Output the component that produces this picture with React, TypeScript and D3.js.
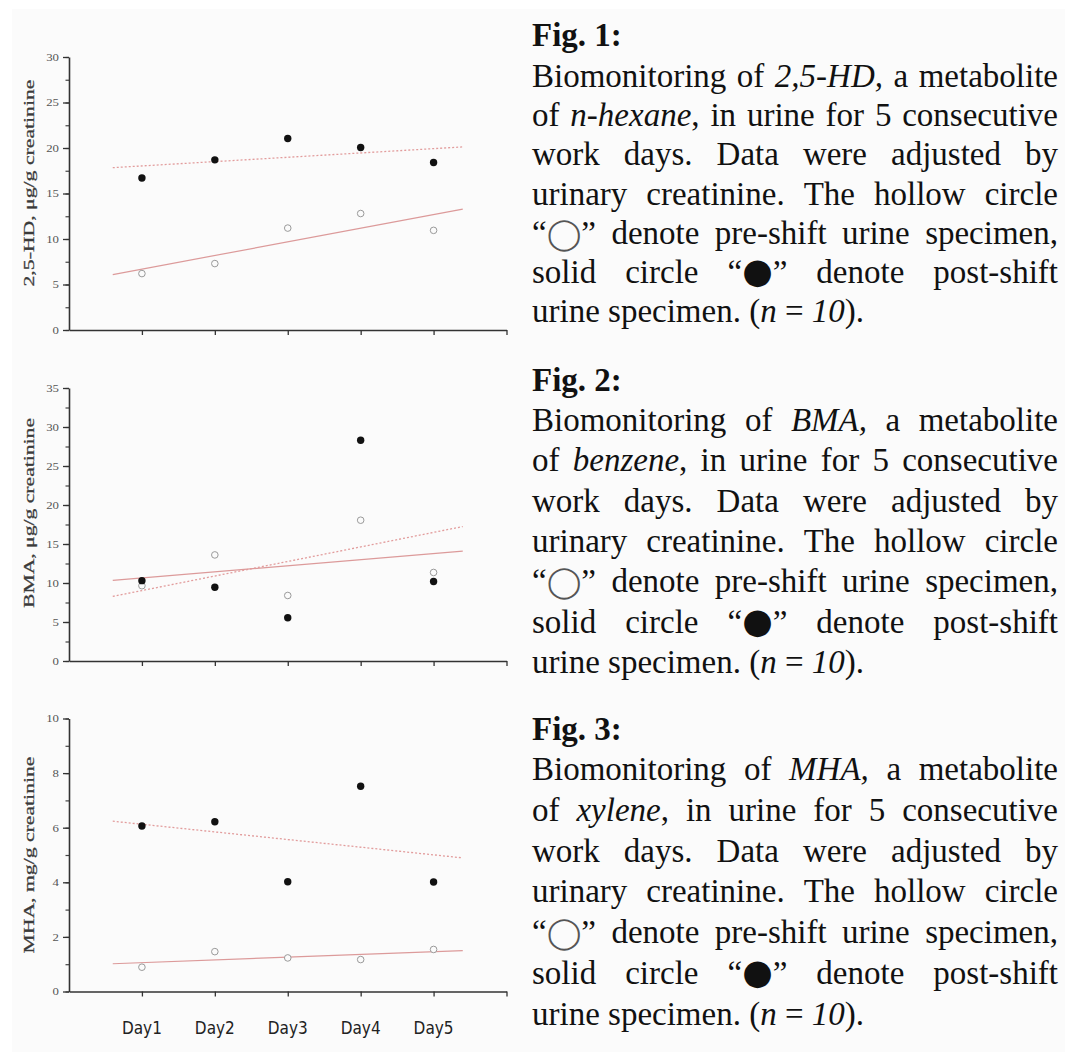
import React, { useEffect, useRef } from "react";
import * as d3 from "d3";

const days = ["Day1", "Day2", "Day3", "Day4", "Day5"];

// 2,5-HD (n-hexane), µg/g creatinine
const hdPre = [6.2, 7.3, 11.2, 12.8, 10.95];
const hdPost = [16.7, 18.7, 21.05, 20.05, 18.4];
// BMA (benzene), µg/g creatinine
const bmaPre = [9.65, 13.6, 8.4, 18.05, 11.35];
const bmaPost = [10.3, 9.45, 5.55, 28.3, 10.2];
// MHA (xylene), mg/g creatinine
const mhaPre = [0.89, 1.46, 1.23, 1.17, 1.54];
const mhaPost = [6.06, 6.22, 4.02, 7.52, 4.01];

const yTitles = ["2,5-HD, μg/g creatinine", "BMA, μg/g creatinine", "MHA, mg/g creatinine"];
const yMax = [30, 35, 10];
const yMajor = [5, 5, 2];
const yMinor = [2.5, 2.5, 1];

const figTitles = ["Fig. 1:", "Fig. 2:", "Fig. 3:"];
const metabolites = ["2,5-HD", "BMA", "MHA"];
const solvents = ["n-hexane", "benzene", "xylene"];

const preSets = [hdPre, bmaPre, mhaPre];
const postSets = [hdPost, bmaPost, mhaPost];

// where each panel / caption block sits on the page
const layout = [
  { top: 57, bottom: 330, labelY: 183, labelLen: 207, capFig: 46, capFirst: 87, capStep: 39.2 },
  { top: 388, bottom: 661, labelY: 513, labelLen: 190, capFig: 391, capFirst: 431, capStep: 40.3 },
  { top: 718.5, bottom: 991.5, labelY: 855, labelLen: 197, capFig: 740, capFirst: 780, capStep: 40.8 },
];

const SERIF = "'Liberation Serif', 'Times New Roman', Times, serif";
const CAP_FS = 33;
const CAP_X = 532;
const CAP_W = 526;

// least squares line through (1..5, ys)
function fit(ys: number[]) {
  const xs = ys.map((_, i) => i + 1);
  const mx = d3.mean(xs) as number;
  const my = d3.mean(ys) as number;
  const b =
    d3.sum(xs.map((x, i) => (x - mx) * (ys[i] - my))) / d3.sum(xs.map((x) => (x - mx) ** 2));
  return (x: number) => my + b * (x - mx);
}

type Seg = { t: string; it: boolean; sym: boolean };

function parseWord(w: string): Seg[] {
  const segs: Seg[] = [];
  w.split("*").forEach((part, i) => {
    part.split(/([◯●])/).forEach((p) => {
      if (p) segs.push({ t: p, it: i % 2 === 1, sym: /[◯●]/.test(p) });
    });
  });
  return segs;
}

function captionLines(k: number) {
  return [
    `Biomonitoring of *${metabolites[k]},* a metabolite`,
    `of *${solvents[k]}*, in urine for 5 consecutive`,
    "work days. Data were adjusted by",
    "urinary creatinine. The hollow circle",
    "“◯” denote pre-shift urine specimen,",
    "solid circle “●” denote post-shift",
    "urine specimen. (*n* = *10*).",
  ];
}

export default function App() {
  const ref = useRef<SVGSVGElement>(null);

  useEffect(() => {
    const svg = d3.select(ref.current);
    svg.selectAll("*").remove();

    svg.append("rect").attr("x", 12).attr("y", 9).attr("width", 1065).attr("height", 1052).attr("fill", "#fbfbfb");

    const x = d3.scaleLinear().domain([0, 6]).range([69, 506.5]);

    layout.forEach((L, k) => {
      const g = svg.append("g");
      const y = d3.scaleLinear().domain([0, yMax[k]]).range([L.bottom, L.top]);

      // minor ticks
      g.append("g")
        .attr("transform", `translate(${x(0)},0)`)
        .call(
          d3.axisLeft(y)
            .tickValues(d3.range(0, yMax[k] + 0.001, yMinor[k]))
            .tickSize(3.5)
            .tickSizeOuter(0)
            .tickFormat(() => "")
        )
        .call((a) => a.select(".domain").remove())
        .call((a) => a.selectAll("line").attr("stroke", "#444").attr("stroke-width", 1.2));

      // major ticks + labels
      const ya = g.append("g")
        .attr("transform", `translate(${x(0)},0)`)
        .call(
          d3.axisLeft(y)
            .tickValues(d3.range(0, yMax[k] + 0.001, yMajor[k]))
            .tickSize(6)
            .tickSizeOuter(0)
            .tickPadding(4)
        );
      ya.select(".domain").attr("stroke", "#333").attr("stroke-width", 1.6);
      ya.selectAll("line").attr("stroke", "#333").attr("stroke-width", 1.3);
      ya.selectAll("text")
        .attr("font-family", SERIF)
        .attr("font-size", 10.5)
        .attr("fill", "#555")
        .each(function () {
          const t = d3.select(this);
          t.attr("textLength", String(t.text()).length * 6.4).attr("lengthAdjust", "spacingAndGlyphs");
        });

      // bottom axis
      const xa = g.append("g")
        .attr("transform", `translate(0,${L.bottom})`)
        .call(
          d3.axisBottom(x)
            .tickValues([1, 2, 3, 4, 5, 6])
            .tickSize(5)
            .tickSizeOuter(0)
            .tickFormat(() => "")
        );
      xa.select(".domain").attr("stroke", "#333").attr("stroke-width", 1.6);
      xa.selectAll("line").attr("stroke", "#333").attr("stroke-width", 1.3);

      // y title
      g.append("text")
        .attr("transform", `translate(34,${L.labelY}) rotate(-90)`)
        .attr("text-anchor", "middle")
        .attr("font-family", SERIF)
        .attr("font-size", 14)
        .attr("fill", "#3a3a3a")
        .attr("stroke", "#3a3a3a")
        .attr("stroke-width", 0.25)
        .attr("textLength", L.labelLen)
        .attr("lengthAdjust", "spacingAndGlyphs")
        .text(yTitles[k]);

      // trend lines
      const fPre = fit(preSets[k]);
      const fPost = fit(postSets[k]);
      const ends = [0.6, 5.4];
      const path = d3.line<number>().x((d) => x(d));
      g.append("path")
        .attr("d", path.y((d) => y(fPre(d)))(ends))
        .attr("fill", "none")
        .attr("stroke", "#dc9a9a")
        .attr("stroke-width", 1.2);
      g.append("path")
        .attr("d", path.y((d) => y(fPost(d)))(ends))
        .attr("fill", "none")
        .attr("stroke", "#e29c9c")
        .attr("stroke-width", 1.3)
        .attr("stroke-dasharray", "2,2");

      // points
      g.selectAll(".pre")
        .data(preSets[k])
        .join("circle")
        .attr("class", "pre")
        .attr("cx", (_, i) => x(i + 1))
        .attr("cy", (d) => y(d))
        .attr("r", 3.3)
        .attr("fill", "#fbfbfb")
        .attr("stroke", "#9a9a9a")
        .attr("stroke-width", 1);
      g.selectAll(".post")
        .data(postSets[k])
        .join("circle")
        .attr("class", "post")
        .attr("cx", (_, i) => x(i + 1))
        .attr("cy", (d) => y(d))
        .attr("r", 3.7)
        .attr("fill", "#111");

      if (k === 2) {
        g.selectAll(".day")
          .data(days)
          .join("text")
          .attr("class", "day")
          .attr("x", (_, i) => x(i + 1))
          .attr("y", 1034)
          .attr("text-anchor", "middle")
          .attr("font-family", "'Liberation Sans Narrow', 'Arial Narrow', 'DejaVu Sans Condensed', sans-serif")
          .attr("font-size", 17)
          .attr("fill", "#222")
          .text((d) => d);
      }

      // caption block
      const cap = svg.append("g").attr("font-family", SERIF).attr("font-size", CAP_FS).attr("fill", "#111");
      cap.append("text")
        .attr("x", CAP_X)
        .attr("y", L.capFig)
        .attr("font-weight", "bold")
        .text(figTitles[k]);

      const lines = captionLines(k);
      lines.forEach((ln, li) => {
        const baseline = L.capFirst + li * L.capStep;
        const words = ln.split(" ").map(parseWord);
        const nodes = words.map((segs) => {
          const t = cap.append("text").attr("y", baseline);
          segs.forEach((s) => {
            const sp = t.append("tspan").text(s.t);
            if (s.it) sp.attr("font-style", "italic");
            if (s.sym) {
              const solid = s.t === "●";
              sp.attr("font-family", "'DejaVu Sans', sans-serif")
                .attr("font-size", solid ? 35 : 31)
                .attr("fill", solid ? "#111" : "#555");
            }
          });
          return t;
        });
        const widths = nodes.map((n) => (n.node() as SVGTextElement).getComputedTextLength());
        const total = d3.sum(widths);
        const last = li === lines.length - 1;
        const gap = last ? CAP_FS * 0.25 : (CAP_W - total) / (nodes.length - 1);
        let cx = CAP_X;
        nodes.forEach((n, i) => {
          n.attr("x", cx);
          cx += widths[i] + gap;
        });
      });
    });
  }, []);

  return (
    <svg
      ref={ref}
      width={1065}
      height={1052}
      style={{ position: "absolute", left: 0, top: 0, background: "#fff" }}
    />
  );
}
